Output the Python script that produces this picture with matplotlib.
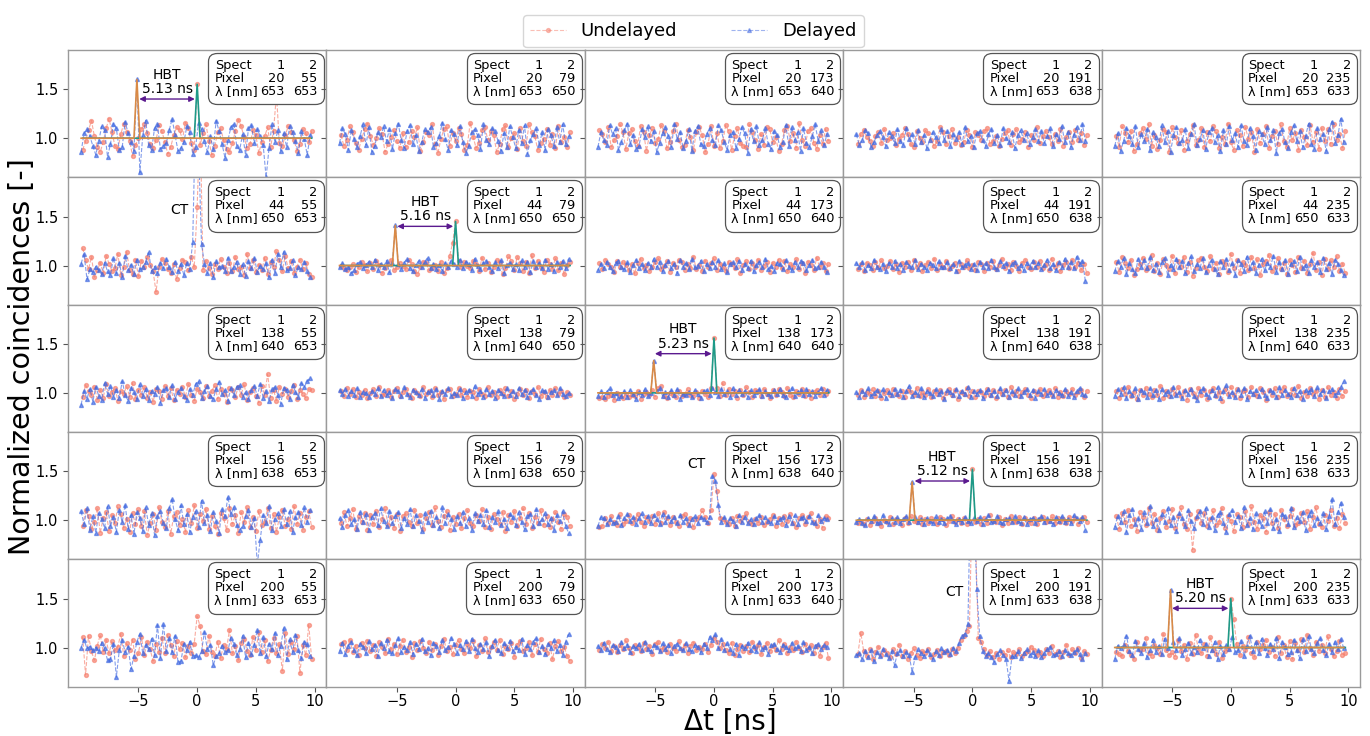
import numpy as np
import matplotlib
matplotlib.use("Agg")
import matplotlib.pyplot as plt
from matplotlib.lines import Line2D
from matplotlib.offsetbox import TextArea, VPacker, HPacker, AnchoredOffsetbox

plt.rcParams["font.family"] = ["DejaVu Sans"]

# normalized coincidences, stored as deviation from 1.0 in hundredths,
# one value every 0.25 ns starting at -9.75 ns (delayed series offset by -0.13 ns)
u11 = """-12 -3 8 18 2 -9 -14 -4 10 20 6 -8 -11 4 15 6 -3 -18 -7 0
9 14 5 -6 -10 -2 13 7 -4 -16 -9 3 11 8 -1 16 10 -5 -12 -3
-7 5 14 -3 -17 -8 6 10 -2 -11 -14 -5 7 19 12 1 -10 -6 8 3
-15 -4 2 11 -9 7 45 -5 -8 3 12 6 -2 -13 -6 9 5 -4 7"""
d11 = """-14 5 9 2 -8 -17 -3 12 8 -19 -6 15 10 -12 -9 17 5 -4 -13 6
-35 3 18 -7 -12 10 14 -11 -8 -5 8 20 3 -13 -10 -4 12 6 -16 -9
16 9 -3 -14 2 -11 18 7 -6 -20 -2 11 15 -8 -12 4 -17 10 13 -5
9 2 -7 -40 -10 14 -4 8 -13 5 -9 12 6 -3 -15 7 -1 -17 3"""
u12 = """3 -8 -2 12 6 -5 -12 -1 9 15 2 -7 0 10 4 -14 -6 1 8 -3
-10 5 -9 -4 7 1 11 -13 -4 6 3 14 -6 -15 -1 9 12 -8 5 -3
10 4 -12 -7 16 1 -10 -5 8 11 -2 7 3 -14 -6 9 13 -9 0 5
-11 10 -3 -8 14 6 2 -12 -5 -1 9 -7 4 -10 12 -4 1 -9 6"""
d12 = """-5 10 4 -12 8 -1 -9 2 14 -7 11 -14 -8 6 1 12 -3 9 -11 5
15 -2 -10 7 13 -6 3 -13 -4 9 6 11 -9 -5 2 16 -1 -12 8 4
-7 12 -4 -15 -8 6 9 3 -11 14 -2 -6 10 7 -3 -13 5 -9 12 1
-10 8 -5 13 -16 -2 4 10 -7 6 -12 9 3 -8 11 -4 14 -6 2"""
u13 = """8 4 -4 11 -9 -2 2 14 6 -11 5 9 -3 -8 12 6 -13 3 10 -5
-1 13 7 -10 -4 7 15 -2 -9 -7 8 1 -12 6 11 3 -14 -6 12 -8
5 -10 -3 13 7 -12 2 10 -5 -8 -9 14 6 -2 -11 4 -7 11 9 -4
1 -13 -6 8 12 -3 5 -10 16 -2 -8 7 10 -5 -11 3 -6 9 -3"""
d13 = """-9 6 -2 -7 13 4 10 -12 -4 8 15 -6 3 -11 -8 9 1 12 -3 7
-14 -5 5 11 2 -9 14 -1 6 -10 -3 9 -13 7 12 -6 -8 4 10 -2
-7 13 8 -4 -12 3 6 -10 -1 11 5 -15 9 -3 12 -7 -2 10 -6 -11
7 3 -9 -4 13 -8 11 -2 6 -13 10 -5 -9 2 14 -3 8 -7 4"""
u14 = """-6 4 8 1 -3 -8 2 6 -5 9 -2 0 5 -7 -1 3 10 4 -6 -9
7 0 -4 8 5 -2 -8 -3 11 6 -6 2 9 -5 1 -7 -4 8 3 -9
6 3 -2 7 10 -6 -3 2 -8 -1 5 8 -7 4 9 -4 -1 6 -9 3
-2 11 -5 2 7 1 -6 4 -3 9 -8 1 6 -4 8 -2 5 -7 3"""
d14 = """4 -7 -2 8 5 -9 -4 3 7 1 -8 6 2 -5 9 -3 -7 10 -1 4
-6 8 -4 3 -10 -2 6 1 -5 9 -2 7 -8 4 -1 6 -6 11 -3 2
-9 5 7 -2 -8 4 9 -5 3 -7 10 0 -4 6 -10 3 8 -2 5 -6
1 9 -3 7 -5 2 10 -8 4 -1 12 -4 6 -9 3 11 -2 14 -3"""
u15 = """2 -9 12 5 -4 7 -13 -6 5 10 -1 14 -8 3 -11 -2 9 6 -14 11
1 -5 8 -12 -3 4 13 -7 -2 10 -9 6 -3 12 7 -10 1 -6 15 -4
-12 8 3 -8 11 -1 6 -14 9 -5 4 12 -10 2 7 -6 14 -3 -9 10
-2 5 -12 8 1 -7 13 -4 6 -11 10 -3 9 -6 15 -2 4 -10 7"""
d15 = """-8 5 -13 -3 10 2 -6 12 -9 4 -3 9 -12 6 1 -8 13 -4 7 -14
3 11 -5 -2 9 -10 4 14 -7 -1 8 -11 6 10 -4 3 -13 8 -6 12
-2 5 -9 13 -3 -7 10 2 -12 7 4 -6 11 -2 8 -15 5 9 -4 -10
6 13 -3 7 -9 2 15 -6 -11 10 -1 4 -13 9 17 -5 3 20 -4"""

u21 = """18 6 -4 9 -12 -5 3 -8 10 2 -6 -3 12 -10 -2 14 -5 -9 6 -11
5 -2 9 1 -6 -27 -1 7 3 -4 -8 2 -14 -3 6 4 -5 9 -2 -7
-6 11 5 -3 -9 2 -4 7 -1 -8 3 -6 9 -4 -2 -10 12 -3 6 -7
1 -5 8 -9 4 -2 15 6 -6 10 -3 5 -8 -1 6 -4 3 -9 -12"""
d21 = """2 12 -14 -4 -7 -1 -5 -9 3 -6 -10 8 -8 3 -12 10 -5 1 -9 6
-4 -2 4 14 -6 -1 -8 3 -3 7 -2 -7 4 -6 2 -10 3 -4 5 -1
-9 6 2 -8 3 -12 5 -2 0 -6 8 -6 -1 4 -9 2 -11 5 -3 8
-7 0 -4 3 -12 6 -8 12 -2 14 -5 -3 6 -10 -1 -4 4 -6 -12"""
u22 = """0 -3 -5 -1 2 -7 -2 4 1 -6 3 -4 5 1 -8 -3 2 6 -5 -2
3 0 -4 6 2 -6 -9 -2 4 3 -5 -3 1 -6 4 -8 -3 6 11 3
5 -2 4 0 -3 5 2 -6 8 -4 3 -7 -2 6 4 -9 -3 10 5 -5
9 3 -6 4 -8 11 -3 5 -1 -7 6 2 -4 8 -5 3 -9 1 4"""
d22 = """-2 3 -4 -1 -8 -5 2 4 -3 1 4 -2 6 -5 2 -1 5 -7 3 0
2 -4 3 7 -3 -6 1 5 -2 4 8 -3 2 -4 1 -6 3 -2 5 2
-1 6 -3 4 2 -5 7 0 -4 3 5 -2 -6 4 -3 6 -8 1 3 -4
2 -5 6 -2 4 -7 5 -1 3 -3 6 -4 2 -6 4 -1 5 -3 7"""
u23 = """3 -4 6 2 -2 -7 5 -1 4 1 -5 2 -8 3 7 -3 1 -6 -2 4
8 -4 0 5 -7 3 -1 6 4 -5 2 -3 9 -4 1 -6 5 -2 3 8
-5 2 -1 -6 4 2 -3 7 -8 1 5 -4 3 -2 6 -5 0 4 -7 3
-1 6 -3 5 -6 2 -1 7 -4 3 -8 4 1 -5 8 -2 3 -6 2"""
d23 = """-5 2 -3 4 -1 -6 3 5 -2 -4 4 -7 1 6 -3 2 -5 3 -1 7
-2 4 -6 1 5 -3 2 -8 6 -1 3 -4 7 -2 0 5 -6 2 -3 4
-1 6 -4 3 -7 2 4 -2 5 -5 2 -3 5 -6 1 4 -2 7 -4 0
-6 3 2 -4 6 -1 -5 4 -2 5 3 -5 1 6 -3 -1 4 -2 -7"""
u24 = """-4 2 -6 3 1 -5 4 -2 6 -3 0 5 -4 2 -7 3 -1 4 -5 6
-2 3 -6 1 4 -3 7 -5 2 -1 5 -4 0 3 -6 2 -2 6 -3 1
-5 4 2 -6 3 -1 5 -4 1 7 -3 2 -5 4 0 -6 3 6 -2 -4
4 -1 5 -3 2 -5 7 -2 3 -6 1 4 -3 6 -2 3 -5 2 -8"""
d24 = """3 -2 4 -5 1 -3 6 -1 -4 2 -6 3 -1 5 -3 2 -5 4 0 -2
6 -4 2 -1 -5 3 1 -3 5 -2 -1 4 -3 2 -6 5 -2 1 3 -4
2 -5 4 -1 3 -3 6 -2 -4 5 0 3 -6 2 4 -3 1 -5 3 -1
5 -2 3 -4 1 6 -3 2 -5 4 -2 7 -1 4 -3 9 2 5 -16"""
u25 = """4 -7 9 3 -3 6 -10 -4 2 8 -5 -1 11 -6 3 -9 7 1 -4 10
-8 5 -2 9 -7 4 -11 -3 6 8 -1 -6 10 -4 3 -9 5 2 -7 12
-3 6 -8 4 1 -5 9 -3 7 -10 2 5 11 -6 -2 8 -4 3 -9 6
1 -7 9 -3 5 -8 2 13 -5 4 -10 7 -4 6 -1 10 -6 2 -8"""
d25 = """-6 5 -2 8 -9 3 -4 -8 7 -1 6 -3 9 -5 2 -7 4 8 -10 1
-4 7 -2 5 -8 3 10 -6 2 -3 8 -7 1 6 -4 -9 5 -1 7 -5
3 -10 6 2 -6 9 -3 4 -8 1 7 -5 3 -2 10 -7 4 -4 6 -9
2 5 -6 9 -3 1 -8 6 -2 4 -7 8 -4 3 -9 6 2 -5 -10"""

u31 = """-4 8 2 -2 6 -7 3 -5 9 -3 1 5 -8 2 -1 7 -4 10 -6 3
-2 6 -5 1 -9 4 2 -6 7 -3 5 -7 3 -1 6 -4 9 -2 -8 4
1 -5 7 -3 2 8 -6 4 -1 -9 5 3 -4 6 -2 9 -7 1 5 -3
-10 7 -2 19 -5 3 -8 6 -1 4 -4 2 8 -6 3 -1 -5 4 3"""
d31 = """-12 2 -6 4 -9 6 -3 -7 10 -1 7 -4 3 -5 12 -2 -8 5 1 -6
9 -3 4 -7 2 -1 6 -10 3 5 -4 8 -6 1 5 -3 -7 4 -2 9
12 -5 2 7 -3 -6 4 11 -1 3 -8 5 -2 6 8 -4 1 -6 3 7
-3 9 -5 2 -8 4 6 -2 -11 5 3 -6 8 1 -4 10 6 12 15"""
u32 = """2 -3 5 -1 4 -4 1 -2 3 -5 0 4 -3 6 -2 -1 3 -4 2 5
-3 1 4 -2 -5 3 0 -3 6 -1 2 -4 5 -2 1 -6 3 4 -3 -1
5 -2 3 -4 2 1 -5 4 -1 -3 6 -2 1 -4 3 -1 5 -3 2 -6
-1 4 -2 3 -5 2 -1 6 -3 1 -4 3 -2 5 -1 2 -4 1 -2"""
d32 = """3 -1 4 -3 2 -2 5 -4 1 0 -4 2 -1 5 -3 3 -2 1 -5 4
2 -3 6 -1 -4 3 1 -2 4 -5 1 3 -2 4 -6 2 -1 5 -3 0
-2 4 -5 1 3 -3 7 -1 2 -4 4 -1 2 -5 3 0 -3 5 -2 2
-3 5 -1 3 -4 1 4 -2 -6 3 2 -4 1 3 -2 5 -1 -3 0"""
u33 = """-5 -4 -6 -3 -2 -7 0 -3 -5 -1 -4 -2 -3 2 -6 -1 1 -2 3 -4
5 7 -3 -5 0 -2 -4 2 -3 -1 4 -2 -3 1 -5 2 -1 -4 5 2
5 -3 10 -2 4 -1 2 -5 3 -2 6 1 -4 3 2 -3 4 -1 -5 3
-2 4 1 -3 5 -2 -4 2 -1 4 -3 2 -5 1 3 -2 4 -1 2"""
d33 = """-3 2 -4 1 5 -2 0 -5 -3 2 -4 3 -1 -6 1 -2 4 -3 0 -1
2 5 -3 1 -4 3 -2 4 -6 -1 -2 1 -4 3 -1 -5 2 3 -2 5
1 -3 4 -1 2 -4 5 -2 3 -1 2 -4 3 -2 1 4 -3 2 -1 -3
3 -1 4 -2 -4 2 5 -3 1 3 -2 4 -1 2 -3 1 5 -2 3"""
u34 = """-2 3 -4 1 -1 4 -3 2 -5 0 3 -2 4 -1 -3 2 -4 3 1 -2
5 -3 1 -2 4 -4 2 -1 3 -5 0 4 -2 3 -6 1 -1 5 -3 2
-4 2 1 -3 4 -2 3 -5 2 -1 3 -4 6 -1 2 -3 1 4 -2 -5
2 -1 4 -3 0 3 -2 5 -4 1 -3 2 -1 4 -2 1 3 -4 2"""
d34 = """1 -4 2 -1 5 -3 0 3 -2 4 -5 1 -2 4 -1 3 -4 2 7 -3
1 -2 5 -4 2 0 -3 4 -1 2 -6 3 1 -2 4 -3 2 -1 6 -4
2 -1 3 -5 1 4 -2 2 -3 5 -1 3 -4 2 -2 5 -3 1 4 -2
3 -5 2 -1 4 -2 1 -3 3 0 -2 4 -3 1 -4 2 5 -1 -2"""
u35 = """2 -5 4 -1 6 -3 1 -6 3 -2 5 -1 -4 3 -2 7 -5 2 -3 4
-1 6 -3 2 -7 4 0 -4 5 -2 3 -6 2 5 -3 1 -8 4 -1 6
-2 4 -5 2 3 -4 6 -1 -3 5 1 -7 3 -2 5 -4 2 6 -3 -1
4 -2 7 -5 1 -3 5 -1 2 -6 3 -4 6 -2 1 -5 4 -3 2"""
d35 = """-3 4 -1 6 -5 2 -2 5 -6 3 1 -4 5 -2 3 -6 4 -1 2 -3
6 -2 1 -5 3 -1 4 -3 -7 2 5 -1 -4 3 -2 6 -5 2 8 -3
1 -4 4 -2 5 -6 2 -1 3 -3 4 -2 -5 3 1 -4 6 -2 3 -1
-4 5 -2 2 -6 3 1 4 -3 6 -1 3 -5 2 4 -2 1 6 12"""

u41 = """-6 10 4 -9 -2 12 -13 2 8 -11 5 -3 14 6 -8 1 -12 7 -4 11
-6 9 -15 -3 6 -10 13 -2 -7 9 -14 4 8 -5 1 -12 10 -3 15 -8
6 -1 11 -9 4 -6 -14 7 2 -10 12 -4 5 -13 8 -2 13 -7 3 -11
9 -5 -2 12 -8 6 -12 3 10 -6 1 -9 14 -4 7 -10 3 9 -7"""
d41 = """9 -4 12 -10 4 -13 7 1 -8 14 -6 3 -12 10 -2 16 -9 5 -14 8
2 -11 13 -5 7 -15 4 9 -3 -8 12 22 1 -10 15 -4 6 -12 3 9
-7 20 -3 5 -11 8 -1 -13 11 4 24 6 13 -5 -10 -6 4 10 -7 2
-45 -20 5 -3 14 -10 1 7 -6 11 -4 9 -12 3 8 -5 13 -2 10"""
u42 = """-3 8 -6 2 11 -9 4 -2 7 -10 5 -4 9 -7 1 12 -5 3 -8 6
-11 4 7 -2 -6 10 -3 5 -9 2 8 -5 13 -1 -7 4 9 -10 3 -4
6 -8 2 10 -3 -6 5 -1 11 -7 3 -9 6 1 -4 8 -11 5 -2 9
-6 2 12 -4 7 -8 3 -3 10 -5 4 -7 1 8 -2 -9 6 3 -6"""
d42 = """2 -7 5 10 -4 1 -9 8 -2 6 -10 3 7 -5 12 -1 -6 9 -3 4
8 -8 2 -4 11 -6 5 -1 -11 7 -2 9 -5 3 -8 13 -3 6 1 -9
4 -3 8 -6 2 -10 7 -1 5 -4 10 -7 3 -2 9 -5 1 -8 6 3
-5 8 -2 -9 4 6 -6 11 -3 1 7 -4 2 -10 5 -1 9 -6 -13"""
u43 = """-7 -6 2 -3 4 -2 -5 6 -4 -1 5 -3 1 6 -2 -6 3 -1 4 -4
7 -3 8 2 -5 3 -2 -6 4 6 -4 2 -7 1 3 10 3 -3 5 -2
3 -5 1 -2 -4 2 -6 4 -1 3 7 -2 -4 1 -3 3 -5 -2 1 5
-6 2 -4 4 -1 6 -3 -7 2 5 -4 3 7 -2 -6 1 -8 4 2"""
d43 = """-6 3 2 -4 1 -3 -2 4 -5 2 6 -1 3 -4 2 7 -2 4 -3 5
1 -4 6 -2 4 -1 3 -3 5 -2 2 -5 1 4 -3 3 1 -2 3 -4
-3 1 -2 3 -4 2 -1 -6 5 -2 3 -3 1 -4 2 5 -2 3 -1 -3
4 -2 1 3 -5 4 -3 5 -4 2 3 -1 4 -2 -3 5 -1 2 1"""
u44 = """-3 -2 -4 1 -5 -1 2 -3 -6 0 -2 3 -4 1 -1 -5 2 -3 4 -1
-2 3 -4 1 -3 2 -1 -4 3 1 -5 -1 4 -2 1 -3 2 -4 -1 3
-2 1 -4 2 -3 5 -1 -2 3 -5 1 -3 4 -1 -2 3 -4 2 -1 -3
2 -4 1 3 -2 -1 4 -3 2 -2 1 -3 3 -1 2 -4 1 3 -2"""
d44 = """-2 1 -3 -5 2 -1 4 -3 -2 5 -1 -4 2 -2 3 -3 1 4 -2 -1
3 -2 1 -4 2 -1 -3 4 -2 1 -3 2 4 -1 -4 1 -2 3 -1 -3
2 -1 3 -4 1 5 -2 -1 4 -2 -3 1 2 -2 4 -1 -3 3 -4 1
2 -3 1 4 -2 2 -1 -4 3 -1 4 -2 1 -3 5 2 -1 3 -10"""
u45 = """4 -9 7 -2 10 -6 1 -11 8 3 -5 12 -3 6 -10 2 9 -7 -1 11
-8 4 13 -4 -9 6 -30 2 9 -3 7 -6 1 10 -5 -2 12 -8 4 -1
-11 6 3 -7 9 -4 14 -2 -9 5 2 -12 8 -3 6 -8 10 1 -6 4
11 -5 -3 7 -2 9 -9 3 13 -4 -7 5 -1 10 -6 2 -8 6 -3"""
d45 = """-7 4 -2 9 -12 5 11 -4 2 -9 8 -3 14 -6 1 -10 6 -2 12 -5
3 -11 7 2 -6 10 -1 -8 4 9 -4 12 -7 3 -10 5 8 -3 -12 6
10 -2 4 -8 13 -5 2 -9 7 -1 -6 9 -3 11 -8 1 -11 6 4 -4
12 -7 3 -1 8 -10 5 9 -5 2 -3 7 -9 4 22 -4 8 18 3"""

u51 = """11 -28 12 -4 -13 2 13 -5 8 -6 7 -3 1 14 -9 5 -3 8 -12 -6
11 -8 6 -2 -14 4 -5 10 -6 13 3 -9 7 -2 5 -10 2 -6 4 32
22 -4 -7 12 -5 -9 6 -11 3 -2 18 -6 2 -13 5 9 -4 -8 11 -3
16 -5 8 -14 -3 10 -6 4 -24 15 -7 6 -2 12 -26 3 -8 23 -12"""
d51 = """0 8 -1 1 -3 0 -4 5 -1 -13 -12 4 -30 -3 8 -5 1 -22 -9 6
14 -6 3 -2 9 -8 23 -11 24 -4 10 -5 12 -15 -14 4 -3 6 -9 -8
-10 -4 16 -2 3 -18 -9 -6 2 -5 -3 10 4 -8 -2 12 -10 5 -7 3
18 -6 11 -9 4 -2 15 -8 2 20 -12 9 -5 13 -3 -11 6 4 -9"""
u52 = """4 6 -3 8 -5 2 -8 5 -1 7 -4 3 -9 6 1 -6 9 -2 4 -7
2 8 -5 1 -10 5 -3 7 -1 -6 6 -3 4 -8 2 9 -4 1 -7 3
8 -2 -6 4 -1 7 -9 3 -4 10 -5 1 6 -3 8 -7 2 -2 5 -10
3 7 -4 -1 6 -8 4 -5 9 -2 -6 5 -12 2 7 -4 1 -9 -14"""
d52 = """-4 5 -7 2 6 -3 -8 4 1 -6 7 -2 3 -9 5 -1 8 -4 -6 3
10 -5 1 -3 6 -7 4 -2 9 -4 -1 -8 5 2 -5 8 -3 1 10 4
-6 3 -2 7 -4 9 -1 -5 4 -2 6 -9 2 8 -3 -6 5 -1 7 -4
1 -3 9 -7 3 -2 6 10 -5 2 -7 4 -1 8 -4 3 -8 6 14"""
u53 = """-3 4 -1 6 -4 2 -5 3 -2 8 -1 -6 3 1 -4 5 -2 2 -7 4
6 -3 1 -5 4 -1 -4 7 -2 3 -6 2 5 -3 1 -2 4 -5 3 10
6 -1 4 -3 -6 5 -8 -2 3 -4 2 -5 6 -1 3 -7 1 5 -4 2
-3 8 -2 4 -6 1 -3 6 -1 -5 4 -2 3 -6 2 -9 1 5 -11"""
d53 = """2 -3 5 -2 -5 3 1 -4 6 -1 3 -5 2 -1 4 -3 6 -2 -4 3
1 -4 5 -2 3 -6 2 4 -1 -3 5 -2 -4 3 1 -5 4 -1 11 8
14 -1 9 -3 5 -2 -6 4 -8 2 -1 5 -3 2 -4 6 -2 1 -7 3
4 -2 -5 3 1 -3 5 -1 2 -4 6 -3 1 -6 2 4 -2 3 1"""
u54 = """-7 15 -4 -9 -2 -12 -5 1 -8 -3 -6 -10 -2 -7 3 -9 -4 -12 -6 -1
-8 -11 -4 -6 -2 -10 -7 -3 -9 -5 -4 -8 -2 -6 -1 3 -5 5 8 12
20 10 6 -2 -8 -4 -10 -6 -12 -5 -8 -3 -10 -5 -7 -2 -9 -6 -4 1
-3 -8 -5 -9 -2 -6 2 -7 -4 -10 -5 3 -8 -2 -6 -1 -11 -4 -7"""
d54 = """-8 -6 -12 -4 -10 -3 -14 -5 -9 -2 -7 -11 -4 -18 -6 -3 -9 -5 -8 -25
-10 -2 -6 -9 -3 -7 -12 -4 -8 -1 -5 -3 -7 0 -4 5 8 13 16 24
60 10 11 -4 -9 -6 -10 -15 -7 -3 -8 -12 -34 -9 -9 -4 -11 -6 -2 -8
-5 -9 -3 -10 -6 -2 1 -8 -7 -4 -9 -3 -6 -8 -5 -2 -7 -12 -6"""
u55 = """-5 -7 -9 3 -4 -8 -12 6 -3 -2 10 -6 -9 3 -1 -7 14 -3 -8 -5
-10 8 -4 3 -12 5 -7 13 -2 -6 4 -9 11 -3 -7 6 -11 -4 -2 9
-5 4 -8 2 -3 11 -6 -10 6 -2 3 8 -5 1 -9 11 -6 3 -10 7
-12 5 -3 9 -5 13 -1 -8 6 -4 3 -6 12 -2 -9 -4 7 -8 -6"""
d55 = """-12 2 -1 3 12 -4 -8 7 -2 -6 5 -10 -3 8 -5 2 -7 9 -1 -4
6 -3 10 -8 -2 5 -6 1 -5 8 -1 4 -9 -3 6 -12 2 -7 3 -2
11 -5 -3 7 -9 2 12 -4 6 -6 9 -1 -8 4 -2 10 -11 6 1 -7
-5 8 -3 -11 9 -4 12 -2 -6 5 10 -3 -8 4 -5 6 -2 9 -1"""

undelayed = [[u11, u12, u13, u14, u15],
             [u21, u22, u23, u24, u25],
             [u31, u32, u33, u34, u35],
             [u41, u42, u43, u44, u45],
             [u51, u52, u53, u54, u55]]
delayed = [[d11, d12, d13, d14, d15],
           [d21, d22, d23, d24, d25],
           [d31, d32, d33, d34, d35],
           [d41, d42, d43, d44, d45],
           [d51, d52, d53, d54, d55]]

pixel_1 = [20, 44, 138, 156, 200]
lambda_1 = [653, 650, 640, 638, 633]
pixel_2 = [55, 79, 173, 191, 235]
lambda_2 = [653, 650, 640, 638, 633]

# HBT peaks: (row, col) -> delay [ns], delayed peak, undelayed peak
hbt_delay = {(0, 0): 5.13, (1, 1): 5.16, (2, 2): 5.23, (3, 3): 5.12, (4, 4): 5.20}
hbt_peak_delayed = {(0, 0): 1.60, (1, 1): 1.41, (2, 2): 1.33, (3, 3): 1.39, (4, 4): 1.59}
hbt_peak_undelayed = {(0, 0): 1.55, (1, 1): 1.45, (2, 2): 1.56, (3, 3): 1.52, (4, 4): 1.50}

# cross-talk panels and the points around the prominent features: (t, value)
ct_panels = [(1, 0), (3, 2), (4, 3)]
extra_undelayed = {
    (1, 0): [(0.0, 1.60), (0.25, 2.5), (0.5, 0.95)],
    (1, 1): [(-0.5, 1.10), (-0.25, 1.23)],
    (3, 2): [(-0.25, 1.10), (0.0, 1.47), (0.25, 1.30), (0.5, 1.02)],
    (4, 3): [(-1.0, 1.08), (-0.75, 1.12), (-0.5, 1.17), (-0.25, 1.22),
             (0.0, 2.6), (0.25, 2.2), (0.5, 1.10), (0.75, 1.06)],
    (4, 4): [(0.25, 1.29)],
}
extra_delayed = {
    (1, 0): [(-0.38, 1.24), (-0.13, 2.6), (0.12, 2.2), (0.37, 1.22)],
    (3, 2): [(-0.13, 1.45), (0.12, 1.40), (0.37, 1.15)],
    (4, 3): [(-0.88, 1.12), (-0.63, 1.14), (-0.38, 1.24), (-0.13, 2.8),
             (0.12, 2.5), (0.37, 1.6), (0.62, 1.12)],
}

t_start = -9.75
t_step = 0.25
d_shift = -0.13

red = "#f67f6d"
blue = "#4169e1"
orange = "#d98a46"
teal = "#1e9a88"
purple = "#5b1a8f"


def values(s):
    return np.array(s.split(), dtype=float) / 100 + 1


def info_box(ax, p1, p2, l1, l2):
    tp = dict(fontsize=9.3, color="black")
    col0 = VPacker(children=[TextArea(s, textprops=tp) for s in ["Spect", "Pixel", "λ [nm]"]],
                   align="left", pad=0, sep=0)
    col1 = VPacker(children=[TextArea(s, textprops=tp) for s in ["1", str(p1), str(l1)]],
                   align="right", pad=0, sep=0)
    col2 = VPacker(children=[TextArea(s, textprops=tp) for s in ["2", str(p2), str(l2)]],
                   align="right", pad=0, sep=0)
    nums = HPacker(children=[col1, col2], align="top", pad=0, sep=6)
    table = HPacker(children=[col0, nums], align="top", pad=0, sep=2)
    box = AnchoredOffsetbox(loc="upper right", child=table, pad=0.35, borderpad=0.3,
                            frameon=True)
    box.patch.set_boxstyle("round,pad=0.1,rounding_size=0.6")
    box.patch.set_edgecolor("#555555")
    box.patch.set_linewidth(0.9)
    ax.add_artist(box)


fig, axes = plt.subplots(5, 5, figsize=(13.7, 7.36), dpi=100, sharex=True, sharey=True)
fig.subplots_adjust(left=0.0496, right=0.9927, top=0.932, bottom=0.067, wspace=0, hspace=0)

for r in range(5):
    for c in range(5):
        ax = axes[r, c]
        yu = values(undelayed[r][c])
        xu = t_start + t_step * np.arange(len(yu))
        yd = values(delayed[r][c])
        xd = t_start + d_shift + t_step * np.arange(len(yd))

        for t0, v in extra_undelayed.get((r, c), []):
            yu[np.argmin(np.abs(xu - t0))] = v
        for t0, v in extra_delayed.get((r, c), []):
            yd[np.argmin(np.abs(xd - t0))] = v

        hbt = (r, c) in hbt_delay
        if hbt:
            dl = hbt_delay[(r, c)]
            iu = np.argmin(np.abs(xu))
            idd = np.argmin(np.abs(xd + dl))
            yu[iu] = hbt_peak_undelayed[(r, c)]
            yd[idd] = hbt_peak_delayed[(r, c)]

        ax.plot(xu, yu, ls="--", lw=0.8, color=red, alpha=0.65,
                marker="o", ms=2.8, mfc=red, mec=red)
        ax.plot(xd, yd, ls="--", lw=0.8, color=blue, alpha=0.65,
                marker="^", ms=2.8, mfc=blue, mec=blue)

        if hbt:
            fit_u = np.ones_like(xu)
            fit_u[iu] = yu[iu]
            fit_d = np.ones_like(xd)
            fit_d[idd] = yd[idd]
            ax.plot(xu, fit_u, color=teal, lw=1.2)
            ax.plot(xd, fit_d, color=orange, lw=1.2)
            ax.annotate("", xy=(-0.2, 1.4), xytext=(-dl + 0.2, 1.4),
                        arrowprops=dict(arrowstyle="<|-|>", color=purple, lw=1,
                                        mutation_scale=8, shrinkA=0, shrinkB=0))
            ax.text(-dl / 2, 1.43, f"HBT\n{dl:.2f} ns", ha="center", va="bottom",
                    fontsize=10, linespacing=1.05)
        if (r, c) in ct_panels:
            ax.text(-1.5, 1.57, "CT", ha="center", va="center", fontsize=10)

        info_box(ax, pixel_1[r], pixel_2[c], lambda_1[r], lambda_2[c])

        ax.set_xlim(-11, 11)
        ax.set_ylim(0.6, 1.9)
        ax.set_xticks([-5, 0, 5, 10])
        ax.set_yticks([1.0, 1.5])
        ax.tick_params(labelsize=10.5, color="#555555", length=3.5)
        ax.tick_params(axis="x", pad=2)
        for sp in ax.spines.values():
            sp.set_color("#9a9a9a")
            sp.set_linewidth(1.0)

handles = [Line2D([], [], ls="--", lw=0.8, color=red, alpha=0.5, marker="o", ms=2.8,
                  mfc=red, mec=red),
           Line2D([], [], ls="--", lw=0.8, color=blue, alpha=0.5, marker="^", ms=2.8,
                  mfc=blue, mec=blue)]
fig.legend(handles, ["Undelayed", "Delayed"], loc="upper center",
           bbox_to_anchor=(0.506, 0.992), ncol=2, fontsize=13, columnspacing=3.0)

fig.text(0.016, 0.515, "Normalized coincidences [-]", rotation=90, ha="center",
         va="center", fontsize=20.5)
fig.text(0.533, 0.0, "Δt [ns]", ha="center", va="bottom", fontsize=20)

fig.savefig("out.png", dpi=100)
